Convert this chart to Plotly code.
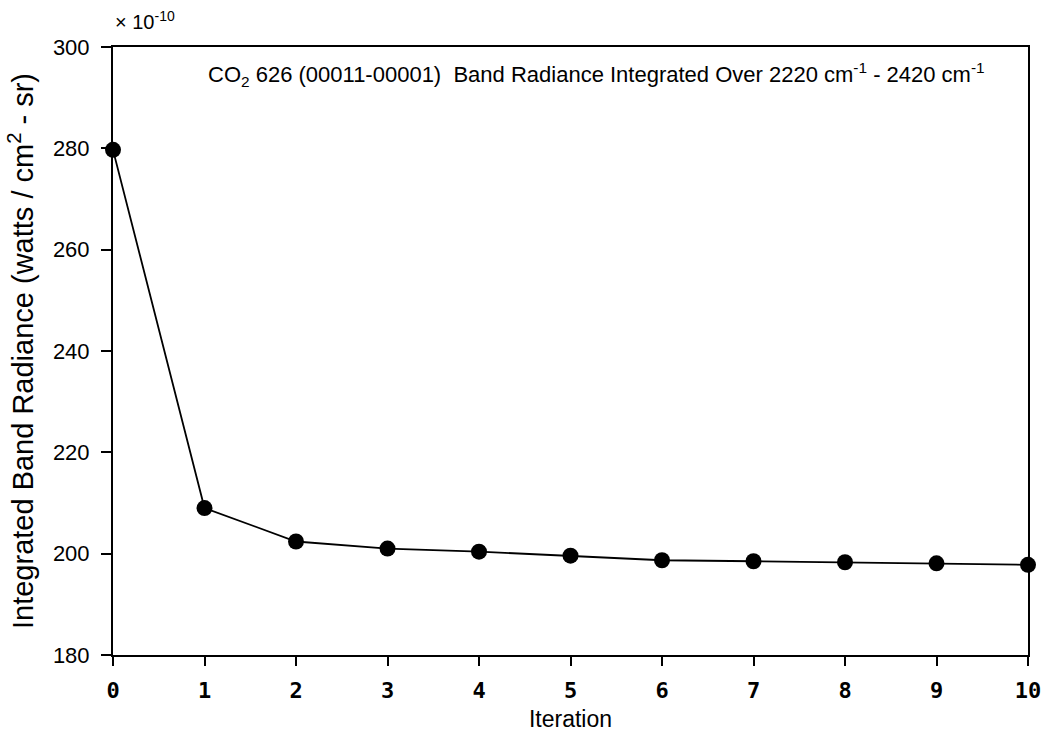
import plotly.graph_objects as go

iterations = [0, 1, 2, 3, 4, 5, 6, 7, 8, 9, 10]
radiance = [279.7, 209.0, 202.4, 201.0, 200.4, 199.6, 198.7, 198.5, 198.3, 198.1, 197.8]  # x 1e-10
y_ticks = [180, 200, 220, 240, 260, 280, 300]
x_ticks = list(range(0, 11))

fig = go.Figure()
fig.add_trace(go.Scatter(
    x=iterations, y=radiance, mode="lines+markers",
    line=dict(color="black", width=1.8),
    marker=dict(color="black", size=16),
    cliponaxis=False, showlegend=False,
))

fig.update_layout(
    width=1044, height=740,
    margin=dict(l=113, r=16, t=47, b=85),
    paper_bgcolor="white", plot_bgcolor="white",
    font=dict(family="Liberation Sans, Arial, sans-serif", color="black"),
    xaxis=dict(
        range=[0, 10], tickvals=x_ticks, ticks="outside", ticklen=9, tickwidth=2,
        tickcolor="black", showline=True, linecolor="black", linewidth=2, mirror=True,
        showgrid=False, zeroline=False, ticklabelstandoff=6, automargin=False,
        ticklabeloverflow="allow",
        tickfont=dict(family="DejaVu Sans Mono, monospace", size=22, weight="bold"),
        title=dict(text="Iteration", font=dict(size=23), standoff=8),
    ),
    yaxis=dict(
        range=[180, 300], tickvals=y_ticks, ticks="outside", ticklen=10, tickwidth=2,
        tickcolor="black", showline=True, linecolor="black", linewidth=2, mirror=True,
        showgrid=False, zeroline=False, ticklabelstandoff=7, automargin=False,
        tickfont=dict(size=22),
        title=dict(text="Integrated Band Radiance (watts / cm<sup>2</sup> - sr)",
                   font=dict(size=29), standoff=11),
    ),
)

fig.add_annotation(
    x=0, y=1, xref="paper", yref="paper", xanchor="left", yanchor="bottom",
    yshift=12, text="× 10<sup>-10</sup>", showarrow=False, font=dict(size=20),
)
fig.add_annotation(
    x=0.528, y=0.954, xref="paper", yref="paper", xanchor="center", yanchor="middle",
    text="CO<sub>2</sub> 626 (00011-00001)  Band Radiance Integrated Over 2220 cm<sup>-1</sup> - 2420 cm<sup>-1</sup>",
    showarrow=False, font=dict(size=22),
)

page_fix = (
    "document.documentElement.style.overflow='hidden';"
    "document.body.style.margin='0';"
    "document.body.style.overflow='hidden';"
)
fig.write_html("out.html", config={"displayModeBar": False}, post_script=page_fix)
